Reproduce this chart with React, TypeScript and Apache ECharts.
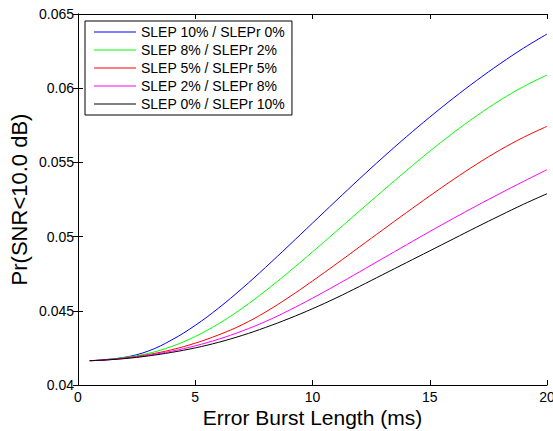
import React, { useEffect, useRef } from "react";
import * as echarts from "echarts";

const xValues = [0.5, 1, 2, 3, 4, 5, 6, 7, 8, 9, 10, 11, 12, 13, 14, 15, 16, 17, 18, 19, 20];

const seriesNames = [
  "SLEP 10% / SLEPr 0%",
  "SLEP 8% / SLEPr 2%",
  "SLEP 5% / SLEPr 5%",
  "SLEP 2% / SLEPr 8%",
  "SLEP 0% / SLEPr 10%",
];

const slep10 = [0.04164, 0.04169, 0.04187, 0.04229, 0.04304, 0.04402, 0.04519, 0.04651, 0.04793, 0.04941, 0.05091, 0.05241, 0.05389, 0.05533, 0.05672, 0.05805, 0.05932, 0.06052, 0.06165, 0.0627, 0.06365];
const slep8 = [0.04164, 0.04168, 0.04186, 0.04213, 0.0426, 0.04327, 0.04413, 0.04517, 0.04635, 0.04763, 0.04897, 0.05034, 0.05172, 0.05309, 0.05444, 0.05575, 0.05699, 0.05814, 0.05919, 0.06011, 0.06089];
const slep5 = [0.04164, 0.04167, 0.04182, 0.04205, 0.04238, 0.04282, 0.04338, 0.04406, 0.04492, 0.04592, 0.04701, 0.04814, 0.0493, 0.05046, 0.05161, 0.05274, 0.05384, 0.05488, 0.05584, 0.05669, 0.05743];
const slep2 = [0.04164, 0.04167, 0.0418, 0.042, 0.04228, 0.04264, 0.04309, 0.04364, 0.04428, 0.04503, 0.04585, 0.04672, 0.04762, 0.04853, 0.04944, 0.05034, 0.05122, 0.05208, 0.05291, 0.05372, 0.05451];
const slep0 = [0.04164, 0.04167, 0.04178, 0.04196, 0.0422, 0.0425, 0.04288, 0.04334, 0.04388, 0.04448, 0.04514, 0.04586, 0.04664, 0.04744, 0.04824, 0.04904, 0.04984, 0.05064, 0.05142, 0.05218, 0.05289];

const allValues = [slep10, slep8, slep5, slep2, slep0];
const colors = ["#0000ff", "#00ff00", "#ff0000", "#ff00ff", "#000000"];

const xTitle = "Error Burst Length (ms)";
const yTitle = "Pr(SNR<10.0 dB)";

const FONT = "'Liberation Sans', Arial, Helvetica, sans-serif";

export default function App() {
  const ref = useRef<HTMLDivElement>(null);
  useEffect(() => {
    if (!ref.current) return;
    const chart = echarts.init(ref.current, undefined, { renderer: "svg" });
    const axisLine = { show: true, lineStyle: { color: "#000", width: 1 } };
    const tick = { show: true, inside: true, length: 5, lineStyle: { color: "#000", width: 1 } };
    const baseX = {
      type: "value" as const,
      min: 0,
      max: 20,
      interval: 5,
      axisLine,
      axisTick: tick,
      splitLine: { show: false },
    };
    const baseY = {
      type: "value" as const,
      min: 0.04,
      max: 0.065,
      interval: 0.005,
      axisLine,
      axisTick: tick,
      splitLine: { show: false },
    };
    chart.setOption({
      animation: false,
      backgroundColor: "#fff",
      grid: {
        left: 78,
        right: 6,
        top: 14,
        bottom: 46,
        containLabel: false,
        outerBoundsMode: "none",
      },
      legend: {
        orient: "vertical",
        left: 85,
        top: 21,
        padding: [2, 7, 2, 9],
        icon: "rect",
        itemWidth: 42,
        itemHeight: 1,
        itemGap: 0,
        backgroundColor: "#fff",
        borderColor: "#000",
        borderWidth: 1,
        borderRadius: 0,
        textStyle: { fontFamily: FONT, fontSize: 14, color: "#000", lineHeight: 18 },
        data: seriesNames,
      },
      xAxis: [
        {
          ...baseX,
          position: "bottom",
          name: xTitle,
          nameLocation: "middle",
          nameGap: 22,
          nameMoveOverlap: false,
          nameTextStyle: { fontFamily: FONT, fontSize: 21, color: "#000", lineHeight: 21 },
          axisLabel: { show: true, margin: 5, fontFamily: FONT, fontSize: 14, color: "#000" },
        },
        { ...baseX, position: "top", axisLabel: { show: false } },
      ],
      yAxis: [
        {
          ...baseY,
          position: "left",
          name: yTitle,
          nameLocation: "middle",
          nameGap: 48,
          nameMoveOverlap: false,
          nameTextStyle: { fontFamily: FONT, fontSize: 22, color: "#000" },
          axisLabel: {
            show: true,
            margin: 4,
            fontFamily: FONT,
            fontSize: 14,
            color: "#000",
            formatter: (v: number) => String(parseFloat(v.toFixed(4))),
          },
        },
        { ...baseY, position: "right", axisLabel: { show: false } },
      ],
      series: allValues.map((vals, i) => ({
        name: seriesNames[i],
        type: "line",
        xAxisIndex: 0,
        yAxisIndex: 0,
        symbol: "none",
        smooth: 0.4,
        color: colors[i],
        lineStyle: { color: colors[i], width: 1 },
        data: xValues.map((x, j) => [x, vals[j]]),
      })),
    });
    return () => chart.dispose();
  }, []);
  return (
    <div
      ref={ref}
      style={{ position: "fixed", left: 0, top: 0, width: 553, height: 431 }}
    />
  );
}
